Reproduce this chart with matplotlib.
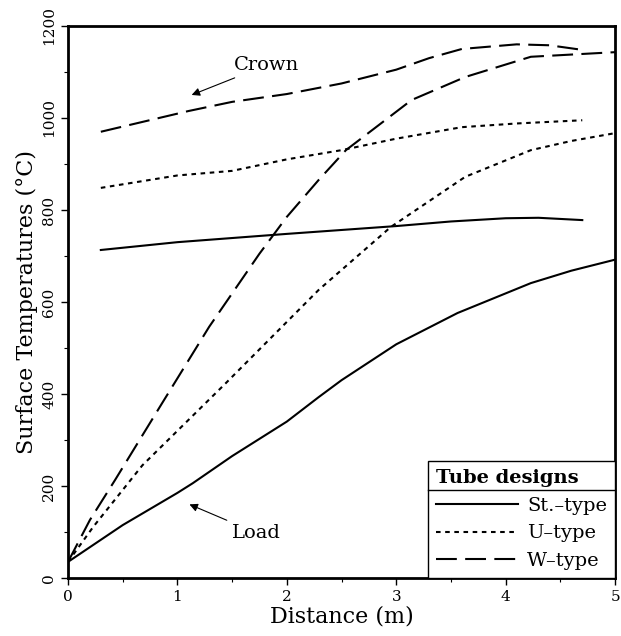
import numpy as np
import matplotlib.pyplot as plt
from matplotlib.lines import Line2D

plt.rcParams["font.family"] = ["DejaVu Serif"]

# St.-type
st_load_x = [0, 0.5, 1, 1.14, 1.5, 2, 2.29, 2.5, 3, 3.56, 4.23, 4.6, 5]
st_load_y = [35, 115, 185, 206, 265, 340, 393, 430, 508, 576, 641, 668, 692]
st_crown_x = [0.3, 1, 2, 3, 3.5, 4, 4.3, 4.7]
st_crown_y = [713, 730, 748, 765, 775, 782, 783, 778]

# U-type
u_load_x = [0, 0.23, 0.68, 1.44, 2.11, 2.29, 2.95, 3.63, 4.23, 4.6, 5]
u_load_y = [35, 111, 245, 423, 583, 626, 763, 872, 930, 950, 967]
u_crown_x = [0.3, 1, 1.5, 2, 2.5, 3, 3.6, 4.1, 4.7]
u_crown_y = [848, 875, 885, 910, 930, 955, 980, 988, 995]

# W-type
w_load_x = [0, 0.2, 0.43, 0.86, 1.29, 1.75, 2.0, 2.29, 2.54, 3.14, 3.63, 4.23, 5]
w_load_y = [35, 126, 213, 380, 546, 705, 785, 865, 930, 1039, 1089, 1133, 1143]
w_crown_x = [0.3, 1.1, 1.5, 2, 2.5, 3, 3.3, 3.6, 4.1, 4.4, 4.7]
w_crown_y = [970, 1015, 1035, 1052, 1075, 1105, 1130, 1150, 1160, 1158, 1148]

fig = plt.figure(figsize=(6.21, 6.36), dpi=100)
ax = fig.add_axes([0.1095, 0.0912, 0.881, 0.868])

lw = 1.5
u_dash = (2.2, 2.2)
w_dash = (10, 4)
ax.plot(st_load_x, st_load_y, color="black", lw=lw, label="St.\u2013type")
ax.plot(st_crown_x, st_crown_y, color="black", lw=lw)
ax.plot(u_load_x, u_load_y, color="black", lw=lw, dashes=u_dash, label="U\u2013type")
ax.plot(u_crown_x, u_crown_y, color="black", lw=lw, dashes=u_dash)
ax.plot(w_load_x, w_load_y, color="black", lw=lw, dashes=w_dash, label="W\u2013type")
ax.plot(w_crown_x, w_crown_y, color="black", lw=lw, dashes=w_dash)

ax.annotate("Crown", xy=(1.13, 1050), xytext=(1.52, 1115), fontsize=14,
            va="center", ha="left",
            arrowprops=dict(arrowstyle="-|>", color="black", lw=0.8,
                            shrinkA=2, shrinkB=0, mutation_scale=12))
ax.annotate("Load", xy=(1.11, 160), xytext=(1.5, 98), fontsize=14,
            va="center", ha="left",
            arrowprops=dict(arrowstyle="-|>", color="black", lw=0.8,
                            shrinkA=2, shrinkB=0, mutation_scale=12))

ax.set_xlim(0, 5)
ax.set_ylim(0, 1200)
ax.set_xticks(np.arange(0, 6, 1))
ax.set_xticks(np.arange(0, 5.01, 0.5), minor=True)
ax.set_yticks(np.arange(0, 1201, 200))
ax.set_yticks(np.arange(0, 1201, 100), minor=True)
ax.tick_params(which="major", direction="out", length=5, width=1, labelsize=11)
ax.tick_params(which="minor", direction="out", length=3, width=0.8)
for lab in ax.get_yticklabels():
    lab.set_rotation(90)
    lab.set_va("center")
for sp in ax.spines.values():
    sp.set_linewidth(2)

ax.set_xlabel("Distance (m)", fontsize=16, labelpad=1)
ax.set_ylabel("Surface Temperatures (\u00b0C)", fontsize=16, labelpad=3)

leg = ax.legend(title="Tube designs", loc="lower right", fancybox=False,
                edgecolor="black", framealpha=1, fontsize=14,
                handlelength=4.2, handletextpad=0.5, borderaxespad=0,
                borderpad=0.4, labelspacing=0.5)
leg.get_title().set_fontsize(14)
leg.get_title().set_fontweight("bold")
leg._legend_box.align = "left"
leg.get_frame().set_linewidth(1)

# line under legend title
fig.canvas.draw()
inv = fig.transFigure.inverted()
tb = leg.get_title().get_window_extent()
fb = leg.get_frame().get_window_extent()
ysep = tb.y0 - 3
(x0, y0) = inv.transform((fb.x0, ysep))
(x1, _) = inv.transform((fb.x1, ysep))
fig.add_artist(Line2D([x0, x1], [y0, y0], color="black", lw=1,
                      transform=fig.transFigure))

fig.savefig("out.png", dpi=100)
